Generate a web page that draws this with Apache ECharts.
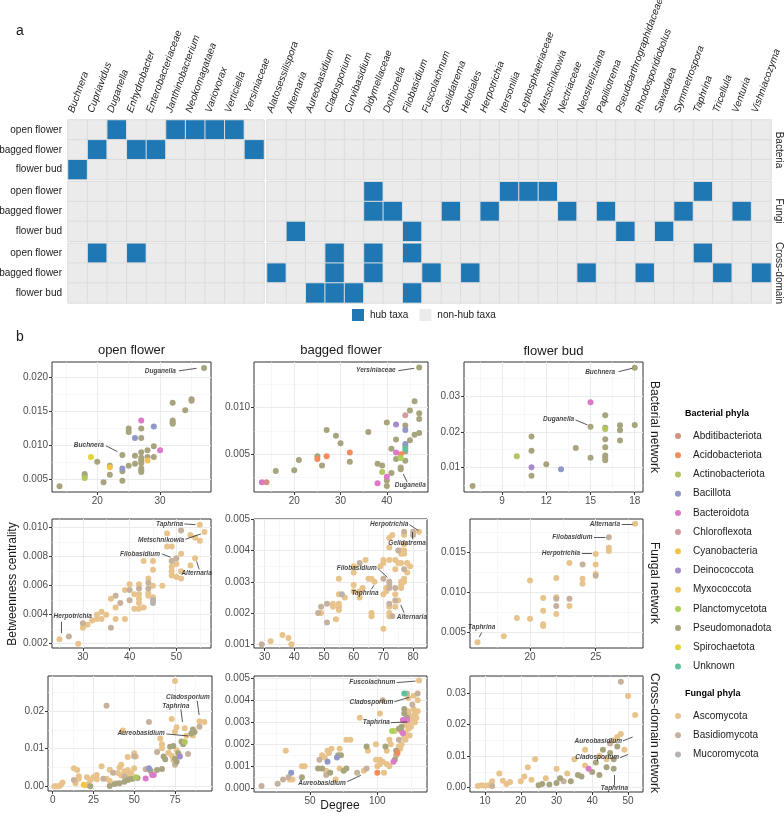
<!DOCTYPE html>
<html>
<head>
<meta charset="utf-8">
<script src="https://cdn.jsdelivr.net/npm/echarts@6/dist/echarts.min.js"></script>
<style>
  html, body { margin: 0; padding: 0; background: #fff; }
  #main { width: 784px; height: 821px; }
</style>
</head>
<body>
<div id="main"></div>
<script>
// ---------- part a: hub taxa ----------
var bacTaxa = ['Buchnera', 'Cupriavidus', 'Duganella', 'Enhydrobacter', 'Enterobacteriaceae', 'Janthinobacterium',
  'Neokomagataea', 'Variovorax', 'Verticiella', 'Yersiniaceae'];
var fungTaxa = ['Alatosessilispora', 'Alternaria', 'Aureobasidium', 'Cladosporium', 'Curvibasidium', 'Didymellaceae',
  'Dothiorella', 'Filobasidium', 'Fuscolachnum', 'Gelidatrema', 'Helotiales', 'Herpotrichia', 'Itersonilia',
  'Leptosphaeriaceae', 'Metschnikowia', 'Nectriaceae', 'Neostrelitziana', 'Papiliotrema', 'Pseudoarthrographidaceae',
  'Rhodosporidiobolus', 'Sawadaea', 'Symmetrospora', 'Taphrina', 'Tricellula', 'Venturia', 'Vishniacozyma'];
var conditions = ['open flower', 'bagged flower', 'flower bud'];
var networks = ['Bacteria', 'Fungi', 'Cross-domain'];

// hub taxa, one list per condition (open, bagged, bud)
var hubBacteria = [
  ['Duganella', 'Janthinobacterium', 'Neokomagataea', 'Variovorax', 'Verticiella'],
  ['Cupriavidus', 'Enhydrobacter', 'Enterobacteriaceae', 'Yersiniaceae'],
  ['Buchnera']
];
var hubFungi = [
  ['Didymellaceae', 'Itersonilia', 'Leptosphaeriaceae', 'Metschnikowia', 'Taphrina'],
  ['Didymellaceae', 'Dothiorella', 'Gelidatrema', 'Herpotrichia', 'Nectriaceae', 'Papiliotrema', 'Symmetrospora', 'Venturia'],
  ['Alternaria', 'Filobasidium', 'Pseudoarthrographidaceae', 'Sawadaea']
];
var hubCross = [
  ['Cupriavidus', 'Enhydrobacter', 'Cladosporium', 'Didymellaceae', 'Filobasidium', 'Taphrina'],
  ['Alatosessilispora', 'Cladosporium', 'Didymellaceae', 'Fuscolachnum', 'Helotiales', 'Neostrelitziana',
    'Rhodosporidiobolus', 'Tricellula', 'Vishniacozyma'],
  ['Aureobasidium', 'Cladosporium', 'Curvibasidium', 'Filobasidium']
];

// ---------- part b: degree vs betweenness ----------
var bacPhyla = ['Abditibacteriota', 'Acidobacteriota', 'Actinobacteriota', 'Bacillota', 'Bacteroidota', 'Chloroflexota',
  'Cyanobacteria', 'Deinococcota', 'Myxococcota', 'Planctomycetota', 'Pseudomonadota', 'Spirochaetota', 'Unknown'];
var fungPhyla = ['Ascomycota', 'Basidiomycota', 'Mucoromycota'];
var phylumCodes = {
  Ab: 'Abditibacteriota', Ac: 'Acidobacteriota', At: 'Actinobacteriota', Bc: 'Bacillota', Bd: 'Bacteroidota',
  Ch: 'Chloroflexota', Cy: 'Cyanobacteria', De: 'Deinococcota', My: 'Myxococcota', Pl: 'Planctomycetota',
  Ps: 'Pseudomonadota', Sp: 'Spirochaetota', Un: 'Unknown', As: 'Ascomycota', Ba: 'Basidiomycota', Mu: 'Mucoromycota'
};

// [degree, betweenness centrality, phylum]
var bacOpen = [[37,0.0213,'Ps'],[35,0.0167,'Ps'],[35,0.0165,'Ps'],[34,0.0151,'Ps'],[32,0.0162,'Ps'],[32,0.0136,'Ps'],
  [32,0.0133,'Ps'],[32,0.0131,'Ps'],[27,0.0136,'Bd'],[29,0.0127,'Bc'],[25,0.0124,'Ps'],[25,0.0119,'Ps'],[27,0.0124,'Ps'],
  [26,0.0110,'Bc'],[27,0.0110,'Ps'],[24,0.0085,'Ps'],[30,0.0092,'Bd'],[29,0.0098,'Ps'],[28,0.0092,'Ps'],[26,0.0084,'Ps'],
  [27,0.0089,'Ps'],[27,0.0081,'Ps'],[27,0.0077,'Ps'],[27,0.0073,'Ps'],[28,0.0082,'Ps'],[29,0.0082,'Ps'],[28,0.0077,'My'],
  [26,0.0072,'Ps'],[25,0.0069,'Ps'],[27,0.0065,'Ps'],[27,0.0062,'Ps'],[27,0.0060,'Ps'],[24,0.0065,'Bc'],[24,0.0061,'Ps'],
  [22,0.0069,'Ps'],[22,0.0067,'Cy'],[22,0.0056,'Ps'],[19,0.0082,'Sp'],[20,0.0075,'Ps'],[18,0.0057,'Ps'],[18,0.0054,'Ps'],
  [18,0.0051,'At'],[21,0.0045,'Ps'],[24,0.0047,'Ps'],[14,0.0039,'Ps']];
var bacBagged = [[47,0.0143,'Ps'],[46,0.0107,'Ps'],[45,0.0097,'Ps'],[47,0.0094,'Ps'],[47,0.0088,'Ps'],[44,0.0092,'Ch'],
  [42,0.0082,'De'],[44,0.0081,'Ps'],[44,0.0076,'Bc'],[40,0.0084,'Ps'],[47,0.0073,'Ps'],[46,0.0071,'Ps'],[45,0.0065,'Ps'],
  [42,0.0066,'Ps'],[44,0.0061,'Bc'],[44,0.0059,'Ps'],[44,0.0056,'Un'],[41,0.0056,'Ps'],[44,0.0053,'Ps'],[42,0.0052,'Bd'],
  [43,0.0050,'Ac'],[42,0.0045,'Ps'],[43,0.0046,'Pl'],[44,0.0043,'Ps'],[38,0.0040,'Ps'],[39,0.0038,'Ps'],[43,0.0036,'Ps'],
  [43,0.0034,'Ps'],[41,0.0030,'Ps'],[39,0.0031,'At'],[40,0.0026,'Bd'],[40,0.0022,'Ps'],[40,0.0016,'Ps'],[38,0.0019,'Bd'],
  [27,0.0076,'Ps'],[29,0.0070,'Ps'],[30,0.0062,'Ps'],[36,0.0074,'Ps'],[32,0.0052,'Ac'],[32,0.0042,'Ps'],[27,0.0048,'Ac'],
  [25,0.0048,'Ps'],[25,0.0045,'Ac'],[26,0.0038,'Ps'],[21,0.0044,'Ps'],[20,0.0033,'Ps'],[16,0.0032,'Ps'],[13,0.0020,'Bd'],
  [14,0.0020,'Ab']];
var bacBud = [[18,0.0378,'Ps'],[15,0.0282,'Bd'],[16,0.0246,'Ps'],[15,0.0214,'Ps'],[16,0.0211,'Ps'],[16,0.0208,'At'],
  [17,0.0218,'Ps'],[17,0.0204,'Ps'],[18,0.0219,'Ps'],[17,0.0176,'Ps'],[16,0.0179,'Ps'],[16,0.0157,'Ps'],[14,0.0155,'Ps'],
  [16,0.0134,'Ps'],[16,0.0128,'Ps'],[16,0.0121,'Ps'],[15,0.0128,'Ps'],[11,0.0187,'Ps'],[11,0.0147,'Ps'],[11,0.0101,'De'],
  [11,0.0078,'Ps'],[12,0.0110,'Ps'],[13,0.0096,'Bc'],[10,0.0132,'At'],[7,0.0049,'Ps']];
var fungOpen = [[55,0.0102,'As'],[56,0.0097,'As'],[53,0.0095,'As'],[54,0.0093,'As'],[55,0.0091,'As'],[51,0.0098,'Ba'],
  [48,0.0096,'As'],[48,0.0087,'As'],[49,0.0087,'As'],[51,0.0082,'As'],[50,0.0079,'Ba'],[49,0.0077,'Ba'],[54,0.0079,'As'],
  [53,0.0074,'As'],[50,0.0075,'As'],[49,0.0073,'As'],[49,0.0070,'As'],[49,0.0067,'As'],[50,0.0066,'As'],[51,0.0070,'As'],
  [51,0.0065,'As'],[43,0.0077,'As'],[45,0.0077,'As'],[45,0.0071,'As'],[44,0.0065,'As'],[44,0.0062,'Ba'],[44,0.0058,'Ba'],
  [45,0.0060,'As'],[47,0.0060,'As'],[40,0.0061,'As'],[42,0.0061,'As'],[39,0.0057,'As'],[40,0.0057,'Ba'],[42,0.0058,'Ba'],
  [41,0.0054,'As'],[42,0.0054,'As'],[42,0.0051,'As'],[42,0.0048,'As'],[44,0.0055,'As'],[44,0.0053,'As'],[45,0.0052,'As'],
  [45,0.0050,'Mu'],[45,0.0048,'Mu'],[41,0.0044,'As'],[42,0.0044,'As'],[43,0.0045,'As'],[40,0.0050,'Ba'],[36,0.0051,'As'],
  [37,0.0053,'Ba'],[38,0.0048,'Ba'],[37,0.0045,'As'],[39,0.0037,'As'],[37,0.0037,'As'],[34,0.0042,'As'],[35,0.0040,'As'],
  [33,0.0040,'As'],[34,0.0037,'As'],[32,0.0036,'As'],[31,0.0033,'As'],[30,0.0034,'Ba'],[30,0.0031,'As'],[33,0.0037,'As'],
  [36,0.0031,'Ba'],[27,0.0025,'Ba'],[25,0.0023,'As'],[29,0.0020,'As']];
var fungBagged = [[82,0.0046,'As'],[80,0.0046,'Ba'],[80,0.0045,'Ba'],[77,0.0046,'Ba'],[77,0.0045,'As'],[72,0.0044,'As'],
  [73,0.0045,'As'],[75,0.0040,'Ba'],[77,0.0042,'As'],[77,0.0040,'As'],[76,0.0040,'As'],[77,0.0039,'As'],[76,0.0039,'As'],
  [72,0.0041,'As'],[70,0.0037,'As'],[70,0.0036,'As'],[69,0.0035,'As'],[74,0.0037,'As'],[75,0.0036,'As'],[76,0.0036,'As'],
  [78,0.0036,'As'],[79,0.0035,'As'],[77,0.0034,'Ba'],[74,0.0034,'As'],[78,0.0033,'As'],[77,0.0031,'As'],[76,0.0030,'As'],
  [77,0.0030,'As'],[72,0.0037,'As'],[70,0.0031,'Ba'],[72,0.0030,'Ba'],[72,0.0029,'Ba'],[71,0.0028,'As'],[72,0.0028,'Ba'],
  [71,0.0027,'As'],[70,0.0026,'As'],[74,0.0028,'Ba'],[76,0.0028,'As'],[76,0.0029,'As'],[74,0.0026,'As'],[74,0.0024,'Ba'],
  [72,0.0023,'Ba'],[75,0.0024,'As'],[72,0.0022,'As'],[74,0.0022,'As'],[72,0.0020,'As'],[72,0.0019,'As'],[73,0.0019,'Ba'],
  [70,0.0015,'As'],[62,0.0036,'Ba'],[64,0.0037,'As'],[60,0.0035,'As'],[60,0.0033,'As'],[65,0.0031,'As'],[66,0.0031,'As'],
  [67,0.0030,'As'],[63,0.0028,'As'],[62,0.0027,'As'],[62,0.0025,'As'],[60,0.0029,'As'],[60,0.0027,'As'],[56,0.0026,'Mu'],
  [55,0.0031,'As'],[55,0.0026,'As'],[57,0.0025,'As'],[53,0.0023,'As'],[53,0.0022,'As'],[55,0.0023,'As'],[55,0.0022,'As'],
  [55,0.0021,'As'],[51,0.0023,'Ba'],[49,0.0022,'Ba'],[49,0.0020,'As'],[48,0.0020,'Ba'],[51,0.0017,'Ba'],[54,0.0018,'As'],
  [66,0.0020,'As'],[66,0.0019,'As'],[29,0.0010,'Ba'],[32,0.0011,'As'],[36,0.0013,'As'],[38,0.0012,'As'],[39,0.0010,'As']];
var fungBud = [[28,0.0186,'As'],[26,0.0169,'Ba'],[26,0.0156,'As'],[26,0.0152,'As'],[25,0.0148,'As'],[23,0.0137,'As'],
  [24,0.0135,'Ba'],[25,0.0135,'As'],[25,0.0123,'As'],[25,0.0121,'Ba'],[24,0.0117,'As'],[24,0.0111,'As'],[22,0.0118,'As'],
  [20,0.0115,'As'],[21,0.0093,'As'],[22,0.0094,'As'],[22,0.0092,'Ba'],[23,0.0092,'Ba'],[22,0.0083,'Ba'],[23,0.0083,'As'],
  [21,0.0077,'As'],[22,0.0073,'As'],[20,0.0067,'As'],[19,0.0068,'As'],[21,0.0060,'As'],[21,0.0058,'As'],[18,0.0045,'As'],
  [16,0.00375,'As']];
var crossOpen = [[75,0.0280,'As'],[33,0.0214,'Ba'],[59,0.0171,'Ba'],[73,0.0179,'As'],[76,0.0157,'As'],[81,0.0154,'As'],
  [90,0.0173,'As'],[93,0.0171,'As'],[90,0.0158,'Ba'],[86,0.0151,'Ps'],[87,0.0144,'Ps'],[85,0.0140,'Ps'],[86,0.0135,'As'],
  [82,0.0134,'As'],[75,0.0145,'As'],[66,0.0127,'As'],[43,0.0148,'As'],[81,0.0118,'At'],[80,0.0112,'Ps'],[67,0.0112,'As'],
  [67,0.0101,'As'],[64,0.0091,'Ba'],[71,0.0089,'As'],[76,0.0096,'As'],[68,0.0079,'Ps'],[69,0.0072,'Ps'],[73,0.0081,'As'],
  [75,0.0073,'Ps'],[76,0.0065,'Ps'],[74,0.0070,'As'],[78,0.0079,'De'],[77,0.0088,'Ps'],[75,0.0057,'Ba'],[83,0.0086,'Ba'],
  [50,0.0088,'As'],[51,0.0079,'As'],[46,0.0078,'As'],[50,0.0080,'Ba'],[30,0.0053,'As'],[35,0.0044,'As'],[13,0.0048,'As'],
  [15,0.0043,'As'],[16,0.0027,'As'],[16,0.0020,'As'],[13,0.0017,'Ba'],[14,0.0008,'As'],[6,0.0010,'As'],[5,0.0004,'As'],
  [1,0.0000,'As'],[2,0.0000,'As'],[4,0.0001,'As'],[19,0.0004,'Cy'],[21,0.0024,'As'],[23,0.0017,'As'],[25,0.0024,'As'],
  [27,0.0030,'As'],[27,0.0019,'As'],[20,0.0003,'As'],[22,0.0006,'As'],[23,0.0000,'Ps'],[31,0.0020,'Ba'],[33,0.0020,'As'],
  [35,0.0014,'As'],[35,0.0001,'Ps'],[38,0.0006,'Ps'],[39,0.0008,'As'],[37,0.0036,'Ba'],[40,0.0035,'As'],[41,0.0050,'As'],
  [42,0.0057,'As'],[44,0.0040,'As'],[46,0.0043,'As'],[42,0.0029,'As'],[44,0.0026,'Ba'],[46,0.0030,'As'],[48,0.0035,'As'],
  [41,0.0008,'Ps'],[44,0.0012,'Ps'],[46,0.0017,'Ps'],[47,0.0019,'Ps'],[49,0.0020,'Ps'],[51,0.0024,'At'],[52,0.0022,'Ps'],
  [50,0.0048,'As'],[57,0.0045,'Ba'],[59,0.0048,'Bc'],[57,0.0021,'Bd'],[61,0.0030,'Bd'],[62,0.0030,'Bd'],[64,0.0043,'Ps'],
  [67,0.0046,'Ps'],[60,0.0041,'Ps'],[72,0.0105,'Ps'],[74,0.0107,'Ps'],[79,0.0119,'Ps']];
var crossBagged = [[131,0.0049,'As'],[120,0.0043,'Un'],[122,0.0043,'Ba'],[127,0.0042,'As'],[130,0.0043,'Ba'],
  [123,0.0041,'As'],[130,0.0040,'As'],[126,0.0038,'Ba'],[104,0.0040,'Ba'],[102,0.0034,'As'],[87,0.0032,'As'],
  [120,0.0036,'Ps'],[120,0.0034,'Ps'],[123,0.0035,'As'],[127,0.0036,'As'],[130,0.0035,'As'],[128,0.0034,'As'],
  [124,0.0033,'As'],[127,0.0032,'As'],[129,0.0032,'As'],[126,0.0031,'As'],[128,0.0030,'As'],[122,0.0032,'Ps'],
  [124,0.0030,'As'],[119,0.0031,'Bd'],[122,0.0031,'Bd'],[118,0.0028,'Ps'],[121,0.0029,'As'],[125,0.0028,'As'],
  [123,0.0027,'As'],[121,0.0025,'As'],[124,0.0024,'As'],[116,0.0027,'Ps'],[118,0.0026,'Ps'],[111,0.0026,'Pl'],
  [113,0.0026,'As'],[119,0.0025,'Bd'],[120,0.0023,'As'],[121,0.0022,'As'],[109,0.0022,'As'],[110,0.0020,'As'],
  [116,0.0022,'Ba'],[118,0.0020,'As'],[116,0.0019,'As'],[114,0.0017,'Ps'],[117,0.0018,'As'],[114,0.0015,'Ba'],
  [115,0.0016,'Ac'],[113,0.0013,'Ps'],[112,0.0012,'Bd'],[106,0.0019,'Ps'],[107,0.0017,'As'],[99,0.0020,'As'],
  [92,0.0019,'Ps'],[93,0.0017,'As'],[99,0.0013,'As'],[102,0.0013,'As'],[104,0.0012,'As'],[102,0.0011,'As'],
  [107,0.0011,'As'],[109,0.0010,'As'],[100,0.0010,'As'],[100,0.0007,'Ac'],[105,0.0007,'As'],[80,0.0022,'As'],
  [77,0.0022,'As'],[63,0.0017,'As'],[64,0.0016,'As'],[59,0.0015,'As'],[61,0.0014,'As'],[57,0.0013,'Ba'],[63,0.0012,'Bc'],
  [70,0.0014,'Bc'],[71,0.0015,'Ps'],[73,0.0015,'Ps'],[66,0.0018,'As'],[72,0.0018,'As'],[77,0.0009,'Ps'],[75,0.0008,'Ps'],
  [72,0.0009,'As'],[56,0.0009,'Ps'],[59,0.0009,'Ps'],[62,0.0008,'As'],[65,0.0007,'Ps'],[62,0.0006,'Ba'],[69,0.0004,'As'],
  [85,0.0007,'Ba'],[90,0.0008,'As'],[92,0.0009,'Ba'],[44,0.0010,'As'],[46,0.0010,'As'],[32,0.0017,'As'],[36,0.0007,'Bc'],
  [37,0.0004,'As'],[35,0.0004,'As'],[34,0.0005,'Ba'],[44,0.0005,'Ps'],[30,0.0004,'Ba'],[26,0.0002,'Ba'],[14,0.0001,'Ba']];
var crossBud = [[8,0.0005,'As'],[9,0.0008,'As'],[10,0.0006,'As'],[11,0.0008,'As'],[12,0.0005,'Ba'],[12,0.0020,'As'],
  [14,0.0045,'As'],[15,0.0022,'As'],[16,0.0012,'As'],[17,0.0018,'As'],[20,0.0020,'As'],[21,0.0035,'As'],[22,0.0065,'As'],
  [23,0.0025,'As'],[24,0.0090,'As'],[25,0.0008,'Ps'],[26,0.0012,'Ps'],[27,0.0030,'As'],[28,0.0010,'Ps'],[30,0.0060,'As'],
  [30,0.0015,'Ps'],[31,0.0030,'Ps'],[32,0.0020,'Ba'],[33,0.0045,'As'],[34,0.0020,'Ps'],[35,0.0090,'As'],[36,0.0040,'Ps'],
  [37,0.0035,'Ps'],[38,0.0070,'As'],[38,0.0120,'As'],[39,0.0060,'Bd'],[40,0.0050,'Ps'],[41,0.0080,'Ps'],[42,0.0100,'As'],
  [42,0.0040,'Ps'],[43,0.0120,'Ps'],[44,0.0090,'As'],[44,0.0065,'Ps'],[45,0.0140,'Ba'],[45,0.0110,'Ps'],[46,0.0150,'As'],
  [46,0.0090,'Ps'],[46,0.0060,'Ps'],[47,0.0130,'Ps'],[47,0.0160,'As'],[48,0.0335,'Ba'],[48,0.0170,'As'],[49,0.0120,'As'],
  [50,0.0290,'As'],[52,0.0230,'As']];

var xTicks = [[20, 30], [20, 30, 40], [9, 12, 15, 18], [30, 40, 50], [30, 40, 50, 60, 70, 80], [20, 25],
  [0, 25, 50, 75], [50, 100], [10, 20, 30, 40, 50]];
var yTicks = [[0.005, 0.010, 0.015, 0.020], [0.005, 0.010], [0.01, 0.02, 0.03], [0.002, 0.004, 0.006, 0.008, 0.010],
  [0.001, 0.002, 0.003, 0.004, 0.005], [0.005, 0.010, 0.015], [0, 0.01, 0.02], [0, 0.001, 0.002, 0.003, 0.004, 0.005],
  [0, 0.01, 0.02, 0.03]];

// ---------- layout / styling ----------
var FONT = '"Liberation Sans", Arial, Helvetica, sans-serif';
var colors = {
  Ab: '#D4917F', Ac: '#F58A5B', At: '#B2C65B', Bc: '#8F98C6', Bd: '#DC79C8', Ch: '#D49BA0', Cy: '#F4C542',
  De: '#A58BCB', My: '#F2C35A', Pl: '#A9D352', Ps: '#A8A47E', Sp: '#E3D43B', Un: '#5DC39B',
  As: '#E8C38C', Ba: '#C6B29C', Mu: '#B8B3AE'
};
var drawOrder = ['As', 'Ba', 'Mu', 'Ps', 'Ab', 'Ac', 'At', 'Bc', 'Bd', 'Ch', 'Cy', 'De', 'My', 'Pl', 'Sp', 'Un'];
var panels = [bacOpen, bacBagged, bacBud, fungOpen, fungBagged, fungBud, crossOpen, crossBagged, crossBud];
// panel boxes [left, top, right, bottom] and axis ranges
var boxes = [[52, 362, 211, 492], [254, 362, 428, 492], [464, 362, 643, 492],
  [52, 519, 211, 648], [254, 519, 427, 648], [470, 519, 643, 648],
  [48, 676, 212, 791], [254, 676, 427, 792], [470, 676, 643, 792]];
var xRange = [[12.8, 38.1], [11.3, 48.9], [6.42, 18.56], [23.4, 57.4], [26.4, 84.7], [15.43, 28.6],
  [-2.9, 97.7], [8.4, 136.9], [5.8, 54.2]];
var yRange = [[0.00305, 0.0222], [0.00096, 0.0149], [0.00325, 0.0394], [0.0017, 0.0106], [0.00088, 0.00501],
  [0.00304, 0.0192], [-0.00125, 0.0293], [-0.00017, 0.0051], [-0.00136, 0.0353]];
var yDec = [3, 3, 2, 3, 3, 3, 2, 3, 2];

// annotation labels (data coordinates): text anchor, alignment, arrow from -> to
var notes = [
  [{t: 'Duganella', at: [32.5, 0.0209], al: 'right', from: [33.0, 0.0209], to: [35.8, 0.02127]},
   {t: 'Buchnera', at: [21.05, 0.0100], al: 'right', from: [21.4, 0.00985], to: [23.2, 0.0090]}],
  [{t: 'Yersiniaceae', at: [41.9, 0.01397], al: 'right', from: [42.5, 0.01397], to: [45.9, 0.01422]},
   {t: 'Duganella', at: [45.06, 0.00172], al: 'center', from: [44.4, 0.00201], to: [43.55, 0.0029]}],
  [{t: 'Buchnera', at: [16.67, 0.0367], al: 'right', from: [16.9, 0.0367], to: [17.83, 0.03765]},
   {t: 'Duganella', at: [13.89, 0.02348], al: 'right', from: [13.98, 0.02329], to: [14.79, 0.0219]}],
  [{t: 'Taphrina', at: [51.46, 0.01026], al: 'right', from: [51.7, 0.01026], to: [54.1, 0.01021]},
   {t: 'Metschnikowia', at: [51.67, 0.00915], al: 'right', from: [51.9, 0.0092], to: [55.24, 0.00957]},
   {t: 'Filobasidium', at: [46.5, 0.00819], al: 'right', from: [46.9, 0.00819], to: [48.76, 0.00796]},
   {t: 'Alternaria', at: [54.32, 0.00688], al: 'center', from: [54.87, 0.00713], to: [54.32, 0.00768]},
   {t: 'Herpotrichia', at: [27.84, 0.00386], al: 'center', from: [25.4, 0.00352], to: [25.4, 0.00272]}],
  [{t: 'Herpotrichia', at: [78.42, 0.00485], al: 'right', from: [78.76, 0.00483], to: [81.8, 0.00464]},
   {t: 'Gelidatrema', at: [78.0, 0.00425], al: 'center', from: [79.57, 0.00436], to: [79.57, 0.00459]},
   {t: 'Filobasidium', at: [67.77, 0.00343], al: 'right', from: [68.1, 0.00343], to: [71.35, 0.00314]},
   {t: 'Taphrina', at: [63.8, 0.00263], al: 'center', from: [65.95, 0.00276], to: [66.86, 0.00289]},
   {t: 'Alternaria', at: [79.6, 0.00186], al: 'center', from: [76.97, 0.00201], to: [75.86, 0.00226]}],
  [{t: 'Alternaria', at: [26.85, 0.01854], al: 'right', from: [26.98, 0.01854], to: [27.82, 0.01854]},
   {t: 'Filobasidium', at: [24.75, 0.01686], al: 'right', from: [24.87, 0.01686], to: [25.74, 0.01686]},
   {t: 'Herpotrichia', at: [23.81, 0.01491], al: 'right', from: [23.94, 0.01491], to: [24.72, 0.01491]},
   {t: 'Taphrina', at: [16.32, 0.00561], al: 'center', from: [16.32, 0.00499], to: [16.14, 0.00441]}],
  [{t: 'Cladosporium', at: [82.9, 0.02365], al: 'center', from: [88.6, 0.02274], to: [89.8, 0.01895]},
   {t: 'Taphrina', at: [75.5, 0.02134], al: 'center', from: [78.6, 0.02046], to: [79.6, 0.01709]},
   {t: 'Aureobasidium', at: [54.2, 0.01409], al: 'center', from: [69.8, 0.0139], to: [83.07, 0.01337]}],
  [{t: 'Fuscolachnum', at: [113.3, 0.0048], al: 'right', from: [114.3, 0.0048], to: [128.4, 0.00487]},
   {t: 'Cladosporium', at: [111.8, 0.00393], al: 'right', from: [112.6, 0.00393], to: [123.7, 0.00413]},
   {t: 'Taphrina', at: [109.4, 0.00298], al: 'right', from: [110.1, 0.00298], to: [122.2, 0.00301]},
   {t: 'Aureobasidium', at: [76.5, 0.00025], al: 'right', from: [77.7, 0.0003], to: [87.8, 0.00059]}],
  [{t: 'Aureobasidium', at: [48.3, 0.0148], al: 'right', from: [48.6, 0.0148], to: [51.3, 0.0160]},
   {t: 'Cladosporium', at: [47.5, 0.0095], al: 'right', from: [47.8, 0.0095], to: [50.0, 0.0105]},
   {t: 'Taphrina', at: [46.2, -0.0003], al: 'center', from: [46.2, 0.0007], to: [46.2, 0.0040]}]
];

var grids = [], xAxes = [], yAxes = [], series = [];
var graphics = [];

function txt(x, y, s, size, opts) {
  opts = opts || {};
  return {
    type: 'text', x: x, y: y, rotation: opts.rot || 0, silent: true,
    style: {text: s, fontSize: size, fontFamily: FONT, fontWeight: opts.bold ? 'bold' : 'normal',
      fontStyle: opts.italic ? 'italic' : 'normal',
      fill: opts.color || '#1a1a1a', align: opts.align || 'center', textAlign: opts.align || 'center',
      verticalAlign: opts.valign || 'middle', textVerticalAlign: opts.valign || 'middle'}
  };
}

// heatmap facets
var colLeft = [68, 267], colW = [196, 504];
var rowTop = [120, 181.7, 243.3], rowH = 59.6;
var hubs = [hubBacteria, hubFungi, hubCross];
var taxaGroups = [bacTaxa, fungTaxa];
for (var r = 0; r < 3; r++) {
  for (var c = 0; c < 2; c++) {
    var gi = grids.length;
    grids.push({left: colLeft[c], top: rowTop[r], width: colW[c], height: rowH, outerBoundsMode: 'none'});
    xAxes.push({
      type: 'category', gridIndex: gi, data: taxaGroups[c], position: 'top',
      axisLine: {show: false}, axisTick: {show: false}, splitLine: {show: false},
      axisLabel: {show: false}
    });
    yAxes.push({
      type: 'category', gridIndex: gi, data: conditions, inverse: true,
      axisLine: {show: false}, axisTick: {show: false}, splitLine: {show: false},
      axisLabel: {show: c === 0, fontSize: 10, color: '#1a1a1a', margin: 6, fontFamily: FONT}
    });
    var hm = [];
    taxaGroups[c].forEach(function (t, i) {
      conditions.forEach(function (cond, j) {
        hm.push([i, j, hubs[r][j].indexOf(t) >= 0 ? 1 : 0]);
      });
    });
    series.push({
      type: 'heatmap', xAxisIndex: gi, yAxisIndex: gi, data: hm,
      itemStyle: {borderColor: '#DCDCDC', borderWidth: 1},
      emphasis: {disabled: true}, animation: false
    });
  }
}
// slanted taxon names above the columns
taxaGroups.forEach(function (taxa, c) {
  var w = colW[c] / taxa.length;
  taxa.forEach(function (t, i) {
    graphics.push(txt(colLeft[c] + (i + 0.5) * w - 2, 114, t, 10,
      {rot: 70 * Math.PI / 180, align: 'left', valign: 'bottom', italic: true}));
  });
});

// scatter panels
panels.forEach(function (pts, p) {
  var b = boxes[p];
  var gi = grids.length;
  grids.push({left: b[0], top: b[1], width: b[2] - b[0], height: b[3] - b[1], show: true,
    borderColor: '#333', borderWidth: 1, backgroundColor: '#fff', outerBoundsMode: 'none'});
  var xi = xTicks[p][1] - xTicks[p][0], yi = yTicks[p][1] - yTicks[p][0];
  var dec = yDec[p];
  xAxes.push({
    type: 'value', gridIndex: gi, min: xRange[p][0], max: xRange[p][1], minInterval: xi, maxInterval: xi,
    axisLine: {show: false, onZero: false},
    axisTick: {show: true, length: 3, lineStyle: {color: '#333'}, customValues: xTicks[p]},
    axisLabel: {customValues: xTicks[p], fontSize: 10, color: '#4D4D4D', margin: 4, fontFamily: FONT,
      formatter: function (v) { return String(v); }},
    splitLine: {show: true, lineStyle: {color: '#EBEBEB', width: 1}},
    minorTick: {show: false, splitNumber: 2},
    minorSplitLine: {show: true, lineStyle: {color: '#F2F2F2', width: 0.6}}
  });
  yAxes.push({
    type: 'value', gridIndex: gi, min: yRange[p][0], max: yRange[p][1], minInterval: yi, maxInterval: yi,
    axisLine: {show: false, onZero: false},
    axisTick: {show: true, length: 3, lineStyle: {color: '#333'}, customValues: yTicks[p]},
    axisLabel: {customValues: yTicks[p], fontSize: 10, color: '#4D4D4D', margin: 4, fontFamily: FONT,
      formatter: function (v) { return Number(v).toFixed(dec); }},
    splitLine: {show: true, lineStyle: {color: '#EBEBEB', width: 1}},
    minorTick: {show: false, splitNumber: 2},
    minorSplitLine: {show: true, lineStyle: {color: '#F2F2F2', width: 0.6}}
  });
  drawOrder.forEach(function (code) {
    var sub = pts.filter(function (d) { return d[2] === code; });
    if (!sub.length) return;
    series.push({
      type: 'scatter', name: phylumCodes[code], xAxisIndex: gi, yAxisIndex: gi,
      data: sub.map(function (d) { return [d[0], d[1]]; }),
      symbolSize: 6, itemStyle: {color: colors[code], opacity: 1},
      emphasis: {disabled: true}, animation: false, z: 2
    });
  });
  // labels + arrows
  series.push({
    type: 'scatter', name: 'notes' + p, xAxisIndex: gi, yAxisIndex: gi, silent: true, z: 5,
    symbolSize: 1, itemStyle: {color: 'rgba(0,0,0,0)'},
    data: notes[p].map(function (n) {
      return {name: n.t, value: n.at, label: {align: n.al}};
    }),
    label: {show: true, position: 'inside', formatter: '{b}', fontSize: 6.5, fontStyle: 'italic',
      fontWeight: 'bold', color: '#111', fontFamily: FONT, verticalAlign: 'middle'},
    markLine: {
      silent: true, symbol: ['none', 'arrow'], symbolSize: [0, 5], animation: false,
      lineStyle: {color: '#111', width: 0.7, type: 'solid'}, label: {show: false},
      emphasis: {disabled: true},
      data: notes[p].map(function (n) { return [{coord: n.from}, {coord: n.to}]; })
    },
    animation: false
  });
});

graphics.push(
  txt(20, 31, 'a', 14), txt(20, 337, 'b', 14),
  txt(779, 150, networks[0], 10, {rot: -Math.PI / 2}),
  txt(779, 211, networks[1], 10, {rot: -Math.PI / 2}),
  txt(779, 273, networks[2], 10, {rot: -Math.PI / 2}),
  txt(131.5, 350, conditions[0], 13), txt(341, 350, conditions[1], 13), txt(553.5, 351, conditions[2], 13),
  txt(654, 427, 'Bacterial network', 12, {rot: -Math.PI / 2}),
  txt(654, 583, 'Fungal network', 12, {rot: -Math.PI / 2}),
  txt(654, 733, 'Cross-domain network', 12, {rot: -Math.PI / 2}),
  txt(13, 584, 'Betweenness centrality', 12, {rot: Math.PI / 2}),
  txt(340, 806, 'Degree', 12),
  txt(685, 414, 'Bacterial phyla', 9, {bold: true, align: 'left', color: '#000'}),
  txt(685, 694, 'Fungal phyla', 9, {bold: true, align: 'left', color: '#000'})
);

var legendBase = {
  orient: 'vertical', left: 675, itemWidth: 20, itemHeight: 6, itemGap: 7, icon: 'circle', padding: 0,
  selectedMode: false, textStyle: {fontSize: 10, color: '#1a1a1a', lineHeight: 12.2, fontFamily: FONT}
};

var myChart = echarts.init(document.getElementById('main'));
var option = {
  backgroundColor: '#fff',
  animation: false,
  textStyle: {fontFamily: FONT},
  grid: grids,
  xAxis: xAxes,
  yAxis: yAxes,
  visualMap: [{
    type: 'piecewise', seriesIndex: [0, 1, 2, 3, 4, 5], orient: 'horizontal', inverse: true, left: 352, top: 309,
    pieces: [{value: 1, label: 'hub taxa', color: '#1F78B4'}, {value: 0, label: 'non-hub taxa', color: '#EBEBEB'}],
    itemWidth: 12, itemHeight: 12, itemGap: 11, textGap: 6, itemSymbol: 'rect', padding: 0,
    selectedMode: false, hoverLink: false, textStyle: {fontSize: 10, color: '#1a1a1a', fontFamily: FONT}
  }],
  legend: [
    Object.assign({}, legendBase, {data: bacPhyla, top: 430}),
    Object.assign({}, legendBase, {data: fungPhyla, top: 710})
  ],
  graphic: graphics,
  series: series
};
myChart.setOption(option);
window.addEventListener('resize', function () { myChart.resize(); });
</script>
</body>
</html>
